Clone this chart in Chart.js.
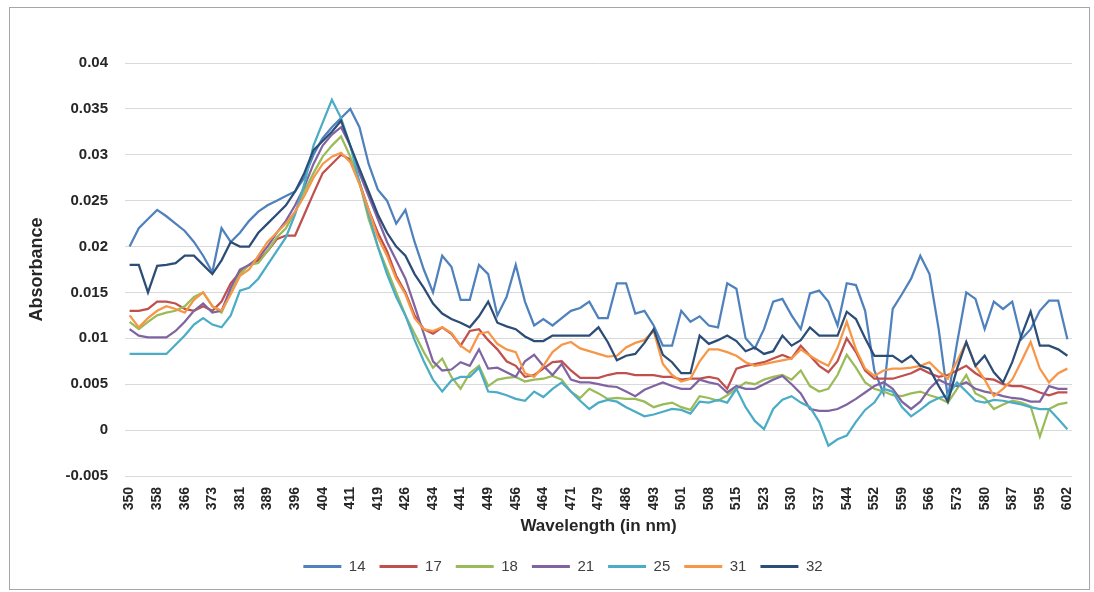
<!DOCTYPE html>
<html>
<head>
<meta charset="utf-8">
<title>Absorbance spectra</title>
<script src="https://cdn.jsdelivr.net/npm/chart.js@4.4.1/dist/chart.umd.min.js"></script>
<style>
  html, body { margin: 0; padding: 0; background: #ffffff; }
  #wrap { position: relative; width: 1094px; height: 592px; }
  #frame { position: absolute; left: 9px; top: 7px; width: 1081px; height: 583px;
           border: 1px solid #a6a6a6; box-sizing: border-box; pointer-events: none; }
  canvas { display: block; }
</style>
</head>
<body>
<div id="wrap">
  <canvas id="chart" width="1094" height="592"></canvas>
  <div id="frame"></div>
</div>
<script>
// Wavelength categories (nm); every third one is labelled on the axis
const wavelengths = [
  350,
  353, 355, 358,  361, 363, 366,  368, 371, 373,  376, 378, 381,  384, 386, 389,
  391, 394, 396,  399, 401, 404,  406, 409, 411,  414, 416, 419,  421, 424, 426,
  429, 431, 434,  436, 439, 441,  444, 446, 449,  451, 454, 456,  459, 461, 464,
  466, 469, 471,  474, 476, 479,  481, 484, 486,  488, 491, 493,  496, 498, 501,
  503, 506, 508,  510, 513, 515,  518, 520, 523,  525, 528, 530,  532, 535, 537,
  539, 542, 544,  547, 549, 552,  554, 557, 559,  561, 564, 566,  568, 571, 573,
  575, 578, 580,  582, 585, 587,  590, 592, 595,  597, 600, 602
];

const seriesNames = ['14', '17', '18', '21', '25', '31', '32'];
const seriesColors = ['#4F81BD', '#C0504D', '#9BBB59', '#8064A2', '#4BACC6', '#F79646', '#2C4D75'];

// Absorbance readings, one value per wavelength
const s14 = [
  0.020, 0.022, 0.023, 0.024, 0.0233, 0.0225, 0.0217, 0.0205, 0.019, 0.0172,
  0.022, 0.0205, 0.0215, 0.0228, 0.0238, 0.0245, 0.025, 0.0255, 0.026, 0.0275,
  0.030, 0.0318, 0.033, 0.034, 0.035, 0.033, 0.029, 0.0262, 0.025, 0.0225,
  0.024, 0.0205, 0.0175, 0.015, 0.019, 0.0178, 0.0142, 0.0142, 0.018, 0.017,
  0.0125, 0.0145, 0.018, 0.014, 0.0114, 0.0121, 0.0114, 0.0122, 0.013, 0.0133,
  0.014, 0.0122, 0.0122, 0.016, 0.016, 0.0127, 0.013, 0.0114, 0.0092, 0.0092,
  0.013, 0.0118, 0.0124, 0.0114, 0.0112, 0.016, 0.0154, 0.010, 0.0089, 0.011,
  0.014, 0.0143, 0.0125, 0.011, 0.0149, 0.0152, 0.014, 0.0114, 0.016, 0.0158,
  0.013, 0.0065, 0.004, 0.0132, 0.0148, 0.0165, 0.019, 0.017, 0.011, 0.0035,
  0.0095, 0.015, 0.0143, 0.011, 0.014, 0.0132, 0.014, 0.0099, 0.011, 0.013,
  0.0141, 0.0141, 0.0099
];
const s17 = [
  0.013, 0.013, 0.0132, 0.014, 0.014, 0.0138, 0.0132, 0.013, 0.0135, 0.013,
  0.014, 0.016, 0.0172, 0.018, 0.0185, 0.0195, 0.0208, 0.0212, 0.0212, 0.0235,
  0.0258, 0.028, 0.029, 0.030, 0.0295, 0.027, 0.024, 0.0215, 0.0195, 0.0168,
  0.015, 0.0125, 0.011, 0.0105, 0.0112, 0.0105, 0.0092, 0.0108, 0.011, 0.0098,
  0.0088, 0.0075, 0.007, 0.0058, 0.006, 0.0067, 0.0074, 0.0075, 0.0065, 0.0057,
  0.0057, 0.0057, 0.006, 0.0062, 0.0062, 0.006, 0.006, 0.006, 0.0058, 0.0058,
  0.0055, 0.0056, 0.0056, 0.0058, 0.0056, 0.0045, 0.0067, 0.007, 0.0072, 0.0074,
  0.0078, 0.0082, 0.0078, 0.0092, 0.0081, 0.007, 0.0063, 0.0075, 0.010, 0.0085,
  0.0065, 0.0056, 0.0056, 0.0056, 0.0059, 0.0062, 0.0067, 0.0062, 0.0058, 0.006,
  0.0065, 0.007, 0.0062, 0.0056, 0.0055, 0.005, 0.0048, 0.0048, 0.0045, 0.0041,
  0.0038, 0.0041, 0.0041
];
const s18 = [
  0.0118, 0.011, 0.0118, 0.0125, 0.0128, 0.013, 0.0135, 0.0145, 0.015, 0.0135,
  0.0128, 0.015, 0.017, 0.018, 0.0182, 0.0195, 0.021, 0.022, 0.0238, 0.026,
  0.028, 0.0298, 0.031, 0.032, 0.0298, 0.027, 0.023, 0.020, 0.0175, 0.015,
  0.0125, 0.0105, 0.0085, 0.0068, 0.0078, 0.0058, 0.0045, 0.0062, 0.007, 0.0048,
  0.0055, 0.0057, 0.0058, 0.0053, 0.0055, 0.0056, 0.0059, 0.0055, 0.0042, 0.0035,
  0.0045, 0.004, 0.0034, 0.0035, 0.0034, 0.0034, 0.0031, 0.0025, 0.0028, 0.003,
  0.0025, 0.0022, 0.0037, 0.0035, 0.0032, 0.0038, 0.0045, 0.0052, 0.005, 0.0055,
  0.0058, 0.006, 0.0055, 0.0065, 0.0048, 0.0042, 0.0045, 0.006, 0.0082, 0.0068,
  0.0052, 0.0045, 0.0042, 0.0038, 0.0037, 0.004, 0.0042, 0.0038, 0.0035, 0.003,
  0.0045, 0.006, 0.004, 0.0035, 0.0023, 0.0028, 0.0032, 0.003, 0.0026, -0.0007,
  0.0023, 0.0028, 0.003
];
const s21 = [
  0.011, 0.0103, 0.0101, 0.0101, 0.0101, 0.0108, 0.0118, 0.013, 0.0138, 0.0128,
  0.013, 0.0155, 0.0175, 0.018, 0.0188, 0.020, 0.0215, 0.0228, 0.0245, 0.0265,
  0.029, 0.031, 0.0322, 0.033, 0.031, 0.028, 0.0255, 0.023, 0.0205, 0.0185,
  0.0165, 0.0135, 0.0105, 0.0075, 0.0065, 0.0066, 0.0074, 0.007, 0.0088, 0.0067,
  0.0068, 0.0063, 0.0058, 0.0075, 0.0082, 0.007, 0.006, 0.0072, 0.0055, 0.0052,
  0.0052, 0.005, 0.0048, 0.0047, 0.0042, 0.0037, 0.0044, 0.0048, 0.0052, 0.0048,
  0.0045, 0.0045, 0.0055, 0.0052, 0.005, 0.0041, 0.0048, 0.0045, 0.0045, 0.005,
  0.0055, 0.0059, 0.005, 0.004, 0.0023, 0.0021, 0.0021, 0.0023, 0.0028, 0.0034,
  0.0041, 0.0048, 0.0052, 0.0045, 0.0031, 0.0023, 0.0031, 0.0045, 0.0055, 0.005,
  0.0048, 0.0052, 0.0045, 0.0042, 0.004, 0.0037, 0.0035, 0.0034, 0.0031, 0.0031,
  0.0048, 0.0045, 0.0045
];
const s25 = [
  0.0083, 0.0083, 0.0083, 0.0083, 0.0083, 0.0093, 0.0103, 0.0115, 0.0122, 0.0115,
  0.0112, 0.0125, 0.0152, 0.0155, 0.0165, 0.018, 0.0195, 0.021, 0.0235, 0.0268,
  0.031, 0.0335, 0.036, 0.034, 0.031, 0.027, 0.0235, 0.020, 0.017, 0.0145,
  0.0125, 0.0098, 0.0075, 0.0055, 0.0042, 0.0054, 0.0058, 0.0058, 0.0068, 0.0042,
  0.0041, 0.0038, 0.0034, 0.0032, 0.0042, 0.0036, 0.0045, 0.0052, 0.0042, 0.0032,
  0.0023, 0.003, 0.0033, 0.0031, 0.0025, 0.002, 0.0015, 0.0017, 0.002, 0.0023,
  0.0022, 0.0018, 0.0031, 0.003, 0.0033, 0.003, 0.0045, 0.0025, 0.001, 0.0001,
  0.0023, 0.0033, 0.0037, 0.003, 0.0025, 0.0009, -0.0017, -0.001, -0.0006, 0.0009,
  0.0022, 0.003, 0.0045, 0.0042, 0.0025, 0.0015, 0.0022, 0.003, 0.0035, 0.0038,
  0.0052, 0.0042, 0.0032, 0.003, 0.0033, 0.0032, 0.003, 0.0028, 0.0025, 0.0023,
  0.0023, 0.0012, 0.0001
];
const s31 = [
  0.0125, 0.0112, 0.0122, 0.013, 0.0135, 0.0132, 0.0128, 0.0142, 0.015, 0.0135,
  0.013, 0.0148, 0.0168, 0.0175, 0.019, 0.0205, 0.0215, 0.0225, 0.0238, 0.0255,
  0.0275, 0.029, 0.0298, 0.0302, 0.0292, 0.0268, 0.024, 0.021, 0.019, 0.0165,
  0.0148, 0.0122, 0.011, 0.0108, 0.0112, 0.0106, 0.0092, 0.0085, 0.0105, 0.0107,
  0.0094, 0.0088, 0.0085, 0.0062, 0.0058, 0.007, 0.0085, 0.0093, 0.0096, 0.0089,
  0.0086, 0.0083, 0.008, 0.0081, 0.009, 0.0095, 0.0098, 0.0108, 0.0072, 0.006,
  0.0053, 0.0056, 0.0075, 0.0088, 0.0088, 0.0085, 0.0081, 0.0074, 0.007, 0.0072,
  0.0074, 0.0076, 0.0078, 0.0088, 0.0081, 0.0075, 0.007, 0.009, 0.0118, 0.0088,
  0.0067, 0.0059, 0.0065, 0.0067, 0.0067, 0.0068, 0.007, 0.0074, 0.0064, 0.0056,
  0.0075, 0.0096, 0.007, 0.0055, 0.0037, 0.0045, 0.0055, 0.0075, 0.0096, 0.0067,
  0.0052, 0.0062, 0.0067
];
const s32 = [
  0.018, 0.018, 0.015, 0.0179, 0.018, 0.0182, 0.019, 0.019, 0.018, 0.017,
  0.0185, 0.0205, 0.020, 0.020, 0.0215, 0.0225, 0.0235, 0.0245, 0.026, 0.028,
  0.0305, 0.0315, 0.0325, 0.0337, 0.031, 0.0285, 0.026, 0.0235, 0.0215, 0.020,
  0.019, 0.017, 0.0155, 0.0138, 0.0127, 0.0121, 0.0117, 0.0112, 0.0124, 0.014,
  0.0117, 0.0113, 0.011, 0.0102, 0.0097, 0.0097, 0.0103, 0.0103, 0.0103, 0.0103,
  0.0103, 0.0112, 0.0096, 0.0076, 0.0081, 0.0083, 0.0095, 0.011, 0.0082, 0.0074,
  0.0062, 0.0062, 0.0103, 0.0094, 0.0098, 0.0103, 0.0097, 0.0086, 0.009, 0.0083,
  0.0086, 0.0103, 0.0092, 0.0098, 0.0112, 0.0103, 0.0103, 0.0103, 0.0129, 0.0121,
  0.010, 0.0081, 0.0081, 0.0081, 0.0074, 0.0081, 0.007, 0.0067, 0.0048, 0.0031,
  0.0067, 0.0096, 0.007, 0.0081, 0.0063, 0.0052, 0.0074, 0.0103, 0.0129, 0.0092,
  0.0092, 0.0088, 0.0081
];
const seriesValues = [s14, s17, s18, s21, s25, s31, s32];

// Y axis range and step
const yMin = -0.005;
const yMax = 0.04;
const yStep = 0.005;

Chart.defaults.font.family = "'Liberation Sans', Arial, sans-serif";

// Moves the bottom legend a little to the right of the plot centre
const legendOffset = {
  id: 'legendOffset',
  afterLayout(chart) {
    if (chart.legend) {
      chart.legend.left += 22;
      chart.legend.right += 22;
    }
  }
};

new Chart(document.getElementById('chart'), {
  type: 'line',
  data: {
    labels: wavelengths,
    datasets: seriesNames.map((name, k) => ({
      label: name,
      data: seriesValues[k],
      borderColor: seriesColors[k],
      backgroundColor: seriesColors[k],
      borderWidth: 2.25,
      pointRadius: 0,
      tension: 0,
      fill: false,
      order: seriesNames.length - k
    }))
  },
  plugins: [legendOffset],
  options: {
    responsive: false,
    animation: false,
    layout: { padding: { top: 63, left: 10, right: 22, bottom: 8 } },
    plugins: {
      tooltip: { enabled: false },
      legend: {
        position: 'bottom',
        labels: {
          boxWidth: 38,
          boxHeight: 3,
          padding: 14,
          color: '#404040',
          font: { size: 15 },
          sort: (a, b) => a.datasetIndex - b.datasetIndex,
          generateLabels(chart) {
            const items = Chart.defaults.plugins.legend.labels.generateLabels(chart);
            return items.map(it => Object.assign(it, {
              lineWidth: 0,
              strokeStyle: 'rgba(0,0,0,0)',
              fillStyle: seriesColors[it.datasetIndex]
            }));
          }
        }
      }
    },
    scales: {
      x: {
        type: 'category',
        offset: true,
        grid: { display: false },
        border: { display: false },
        ticks: {
          autoSkip: false,
          minRotation: 90,
          maxRotation: 90,
          padding: 3,
          color: '#262626',
          font: { size: 14, weight: 'bold' },
          callback: (v, i) => (i % 3 === 0 ? String(wavelengths[i]) : '')
        },
        title: {
          display: true,
          text: 'Wavelength (in nm)',
          color: '#262626',
          font: { size: 17, weight: 'bold' },
          padding: { top: 0, bottom: 8 }
        },
        afterFit(scale) { scale.height = 69; }
      },
      y: {
        min: yMin,
        max: yMax,
        grid: { color: '#d9d9d9', drawTicks: false },
        border: { display: false },
        ticks: {
          stepSize: yStep,
          padding: 17,
          color: '#262626',
          font: { size: 15, weight: 'bold' },
          callback: v => String(Number(v.toFixed(3)))
        },
        title: {
          display: true,
          text: 'Absorbance',
          color: '#262626',
          font: { size: 18, weight: 'bold' },
          padding: { top: 16, bottom: 0 }
        },
        afterFit(scale) { scale.width = 115; }
      }
    }
  }
});
</script>
</body>
</html>
